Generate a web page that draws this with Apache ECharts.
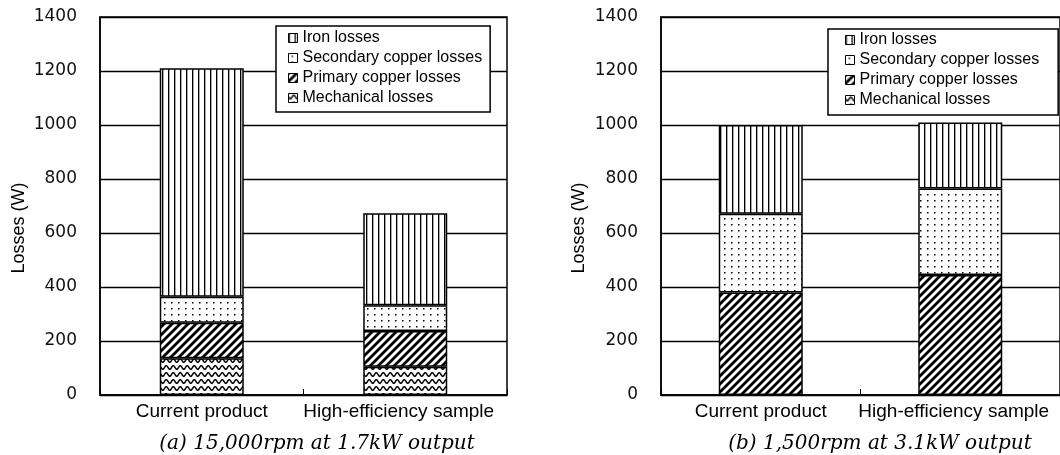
<!DOCTYPE html>
<html><head><meta charset="utf-8">
<script src="https://cdn.jsdelivr.net/npm/echarts@6/dist/echarts.min.js"></script>
<style>html,body{margin:0;padding:0;background:#fff}#c{width:1060px;height:455px}</style>
</head><body><div id="c"></div>
<script>
// ---- data ----
const categories = ['Current product', 'High-efficiency sample'];
const legendOrder = ['Iron losses', 'Secondary copper losses', 'Primary copper losses', 'Mechanical losses'];
const yTicks = [0, 200, 400, 600, 800, 1000, 1200, 1400];
const yTitle = 'Losses (W)';
// panel (a) 15,000rpm at 1.7kW
const mechanicalA = [136, 105];
const primaryA = [132, 132];
const secondaryA = [96, 95];
const ironA = [846, 341];
// panel (b) 1,500rpm at 3.1kW
const mechanicalB = [0, 0];
const primaryB = [380, 444];
const secondaryB = [291, 321];
const ironB = [329, 244];
const captionA = '(a) 15,000rpm at 1.7kW output';
const captionB = '(b) 1,500rpm at 3.1kW output';

// ---- fill patterns ----
function tile(w, h, draw) {
  const c = document.createElement('canvas');
  c.width = w; c.height = h;
  const g = c.getContext('2d');
  g.fillStyle = '#fff'; g.fillRect(0, 0, w, h);
  g.fillStyle = '#000'; g.strokeStyle = '#000';
  draw(g, w, h);
  return { image: c, repeat: 'repeat' };
}
const patIron = tile(6, 6, g => { g.fillRect(0, 0, 1, 6); g.fillStyle = 'rgba(0,0,0,0.35)'; g.fillRect(1, 0, 1, 6); });
const patSecondary = tile(7, 6, g => { g.fillRect(3, 2, 1.5, 1.5); });
const patPrimary = tile(8, 8, (g, s) => {
  g.lineWidth = 2.8;
  g.beginPath();
  g.moveTo(-2, s + 2); g.lineTo(s + 2, -2);
  g.moveTo(-2, 2); g.lineTo(2, -2);
  g.moveTo(s - 2, s + 2); g.lineTo(s + 2, s - 2);
  g.stroke();
});
const patMech = tile(7, 7, (g, w) => {
  g.lineWidth = 1.4;
  g.beginPath();
  for (let x = -1; x <= w + 1; x += 0.5) {
    const y = 3.5 + 1.8 * Math.sin(2 * Math.PI * x / w);
    if (x === -1) g.moveTo(x, y); else g.lineTo(x, y);
  }
  g.stroke();
});
const patterns = {
  'Mechanical losses': patMech,
  'Primary copper losses': patPrimary,
  'Secondary copper losses': patSecondary,
  'Iron losses': patIron
};

// ---- option ----
const grids = [
  { left: 100, top: 17, width: 407, height: 378 },
  { left: 661, top: 17, width: 407, height: 378 }
].map(g => Object.assign(g, { show: true, borderColor: '#000', borderWidth: 1.5, backgroundColor: 'transparent' }));

function xAxis(i) {
  return {
    type: 'category', gridIndex: i,
    data: categories.map((c, k) => k === 1 ? { value: c, textStyle: { padding: [0, 13, 0, 0] } } : c),
    axisLine: { lineStyle: { color: '#000', width: 1.5 } },
    axisTick: { show: true, inside: true, length: 6, lineStyle: { color: '#000', width: 1 } },
    axisLabel: { interval: 0, margin: 7, fontFamily: 'Liberation Sans, Arial, sans-serif', fontSize: 19, color: '#000' }
  };
}
function yAxis(i, gap) {
  return {
    type: 'value', gridIndex: i,
    min: yTicks[0], max: yTicks[yTicks.length - 1], interval: yTicks[1] - yTicks[0],
    axisLine: { show: true, lineStyle: { color: '#000', width: 1.5 } },
    axisTick: { show: false },
    splitLine: { show: true, lineStyle: { color: '#000', width: 1.3 } },
    axisLabel: { margin: 23, fontFamily: 'DejaVu Sans, sans-serif', fontSize: 17, color: '#111', formatter: v => String(v) },
    name: yTitle, nameLocation: 'middle', nameGap: gap,
    nameTextStyle: { fontFamily: 'Liberation Sans, Arial, sans-serif', fontSize: 18, color: '#000', padding: [0, 44, 0, 0] }
  };
}

function stackSeries(i, mech, prim, sec, iron) {
  const vals = { 'Mechanical losses': mech, 'Primary copper losses': prim, 'Secondary copper losses': sec, 'Iron losses': iron };
  return ['Mechanical losses', 'Primary copper losses', 'Secondary copper losses', 'Iron losses'].map(name => ({
    name, type: 'bar', stack: 'p' + i, xAxisIndex: i, yAxisIndex: i,
    barWidth: 84, data: vals[name],
    itemStyle: { color: patterns[name], borderColor: '#000', borderWidth: 1.5 },
    emphasis: { disabled: true }
  }));
}

function legend(left, top, padding) {
  return {
    left, top, orient: 'vertical', data: legendOrder, icon: 'rect',
    itemWidth: 9, itemHeight: 9, itemGap: 4, padding,
    borderColor: '#000', borderWidth: 1.5, backgroundColor: '#fff',
    selectedMode: false,
    itemStyle: { borderColor: '#000', borderWidth: 1 },
    textStyle: { fontFamily: 'Liberation Sans, Arial, sans-serif', fontSize: 16, lineHeight: 16, color: '#000' }
  };
}

const captionStyle = { font: 'italic 20px "DejaVu Serif", serif', fill: '#000', align: 'center', verticalAlign: 'middle' };

const option = {
  animation: false,
  backgroundColor: '#fff',
  grid: grids,
  xAxis: [xAxis(0), xAxis(1)],
  yAxis: [yAxis(0, 72), yAxis(1, 73)],
  legend: [legend(276, 26, [4, 8, 6, 12]), legend(828, 29, [3, 19, 7, 17])],
  series: [].concat(
    stackSeries(0, mechanicalA, primaryA, secondaryA, ironA),
    stackSeries(1, mechanicalB, primaryB, secondaryB, ironB)
  ),
  graphic: [
    { type: 'text', x: 317, y: 444, style: Object.assign({ text: captionA }, captionStyle) },
    { type: 'text', x: 880, y: 444, style: Object.assign({ text: captionB }, captionStyle) }
  ]
};

const chart = echarts.init(document.getElementById('c'), null, { renderer: 'canvas' });
chart.setOption(option);
</script>
</body></html>
